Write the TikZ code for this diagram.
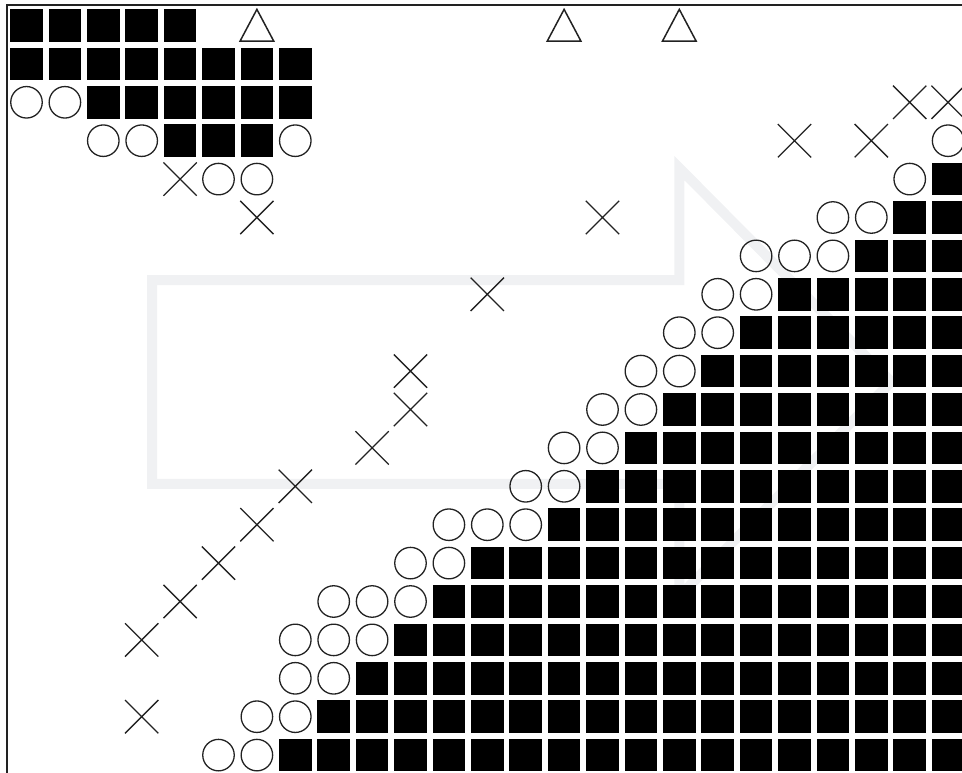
\documentclass[tikz,border=0pt]{standalone}
\usepackage{tikz}
\usetikzlibrary{shapes.misc}
\definecolor{arrowgray}{RGB}{240,241,243}
\definecolor{inkgray}{RGB}{34,34,34}

\begin{document}
\begin{tikzpicture}[x=38.4pt, y=-38.4pt,
        blk/.style={fill=black, minimum size=32.5pt, inner sep=0pt},
        ring/.style={circle, draw=inkgray, line width=1.3pt, minimum size=31.5pt, inner sep=0pt},
        xmark/.style={cross out, draw=inkgray, line width=1.3pt, minimum size=32pt, inner sep=0pt}]
                        \useasboundingbox (-0.69,-0.664) rectangle (24.362,19.466);

                        \draw [arrowgray, line width=10pt] (3.27,6.63) -- (17,6.63) -- (17,3.71) -- (22.52,9.28)
                              -- (17,14.86) -- (17,11.94) -- (3.27,11.94) -- cycle;

                        \draw [inkgray, line width=2pt] (-0.508,19.6) -- (-0.508,-0.521) -- (24.5,-0.521);

                        \foreach \r/\a/\b in {0/0/4, 1/0/7, 2/2/7, 3/4/6, 4/24/24, 5/23/24, 6/22/24, 7/20/24,
                                8/19/24, 9/18/24, 10/17/24, 11/16/24, 12/15/24, 13/14/24, 14/12/24,
                                15/11/24, 16/10/24, 17/9/24, 18/8/24, 19/7/24}
                            \foreach \c in {\a,...,\b}
                                \node [blk] (sq-\c-\r) at (\c,\r) {};

                        \foreach \c/\r in {0/2, 1/2, 2/3, 3/3, 7/3, 24/3, 5/4, 6/4, 23/4, 21/5, 22/5,
                                19/6, 20/6, 21/6, 18/7, 19/7, 17/8, 18/8, 16/9, 17/9, 15/10, 16/10,
                                14/11, 15/11, 13/12, 14/12, 11/13, 12/13, 13/13, 10/14, 11/14,
                                8/15, 9/15, 10/15, 7/16, 8/16, 9/16, 7/17, 8/17, 6/18, 7/18, 5/19, 6/19}
                            \node [ring] (ci-\c-\r) at (\c,\r) {};

                        \foreach \c/\r in {23/2, 24/2, 20/3, 22/3, 4/4, 6/5, 15/5, 12/7, 10/9, 10/10,
                                9/11, 7/12, 6/13, 5/14, 4/15, 3/16, 3/18}
                            \node [xmark] (x-\c-\r) at (\c,\r) {};

                        \foreach \c in {6,14,17}
                            \draw [inkgray, line width=1.5pt] (\c-0.44,0.41) -- (\c,-0.42) -- (\c+0.44,0.41) -- cycle;
                    \end{tikzpicture}
\end{document}
